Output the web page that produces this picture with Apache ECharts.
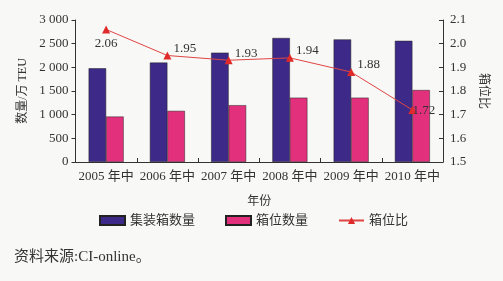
<!DOCTYPE html>
<html><head><meta charset="utf-8">
<script src="https://cdn.jsdelivr.net/npm/echarts@6/dist/echarts.min.js"></script>
<style>html,body{margin:0;padding:0;background:#f8f8f6;}#c{width:503px;height:281px;}</style>
</head><body><div id="c"></div>
<script>
var categories = ['2005 年中','2006 年中','2007 年中','2008 年中','2009 年中','2010 年中'];
var containers = [1980, 2100, 2310, 2620, 2590, 2560];
var slots = [960, 1080, 1200, 1360, 1360, 1520];
var ratio = [2.06, 1.95, 1.93, 1.94, 1.88, 1.72];

var serif = '"Liberation Serif","Noto Sans CJK SC",serif';
var txt = '#333';
var ratioData = ratio.map(function (v, i) {
  if (i === 0) return {value: v, label: {position: 'bottom', distance: 4, offset: [0, 0]}};
  if (i === 5) return {value: v, label: {offset: [-6, 1]}};
  return v;
});
var chart = echarts.init(document.getElementById('c'));
chart.setOption({
  backgroundColor: '#f8f8f6',
  animation: false,
  grid: {left: 75.5, right: 60, top: 20, bottom: 119},
  legend: {
    top: 209, left: 94, itemGap: 30, itemWidth: 25, itemHeight: 9,
    textStyle: {fontFamily: serif, fontSize: 13, color: txt},
    data: [
      {name: '集装箱数量', icon: 'rect'},
      {name: '箱位数量', icon: 'rect', textStyle: {padding: [0, 10, 0, 0]}},
      {name: '箱位比'}
    ]
  },
  xAxis: {
    type: 'category', data: categories,
    name: '年份', nameLocation: 'middle', nameGap: 34,
    nameTextStyle: {fontFamily: serif, fontSize: 12, color: txt},
    axisLine: {lineStyle: {color: '#333', width: 1}},
    axisTick: {show: true, inside: true, length: 4, lineStyle: {color: '#333'}},
    axisLabel: {fontFamily: serif, fontSize: 13, color: txt, margin: 8, interval: 0}
  },
  yAxis: [{
    type: 'value', min: 0, max: 3000, interval: 500,
    name: '数量/万 TEU', nameLocation: 'middle', nameGap: 45, nameRotate: 90,
    nameTextStyle: {fontFamily: serif, fontSize: 12, color: txt},
    axisLine: {show: true, lineStyle: {color: '#333'}},
    axisTick: {show: true, length: 4, lineStyle: {color: '#333'}},
    splitLine: {show: false},
    axisLabel: {fontFamily: serif, fontSize: 13, color: txt, margin: 7,
      formatter: function (v) { return String(v).replace(/\B(?=(\d{3})+$)/g, ' '); }}
  }, {
    type: 'value', min: 1.5, max: 2.1, interval: 0.1,
    name: '箱位比', nameLocation: 'middle', nameGap: 31, nameRotate: -90,
    nameTextStyle: {fontFamily: serif, fontSize: 12, color: txt},
    axisLine: {show: true, lineStyle: {color: '#333'}},
    axisTick: {show: true, inside: true, length: 4, lineStyle: {color: '#333'}},
    splitLine: {show: false},
    axisLabel: {fontFamily: serif, fontSize: 13, color: txt, margin: 7,
      formatter: function (v) { return v.toFixed(1); }}
  }],
  series: [{
    name: '集装箱数量', type: 'bar', data: containers, barWidth: 17.5, barGap: '0%',
    itemStyle: {color: '#3d2a88', borderColor: '#222', borderWidth: 0.5}
  }, {
    name: '箱位数量', type: 'bar', data: slots, barWidth: 17.5,
    itemStyle: {color: '#e2307c', borderColor: '#222', borderWidth: 0.5}
  }, {
    name: '箱位比', type: 'line', yAxisIndex: 1, data: ratioData,
    symbol: 'triangle', symbolSize: 8,
    lineStyle: {color: '#e04545', width: 1},
    itemStyle: {color: '#e02a2a'},
    label: {show: true, position: 'right', distance: 2, offset: [0, -7],
      fontFamily: serif, fontSize: 13, color: txt,
      formatter: function (p) { return p.value.toFixed(2); }}
  }],
  graphic: [{
    type: 'text', left: 14, top: 250,
    style: {text: '资料来源:CI-online。', fontFamily: serif, fontSize: 15, fill: '#333'}
  }]
});
</script></body></html>
